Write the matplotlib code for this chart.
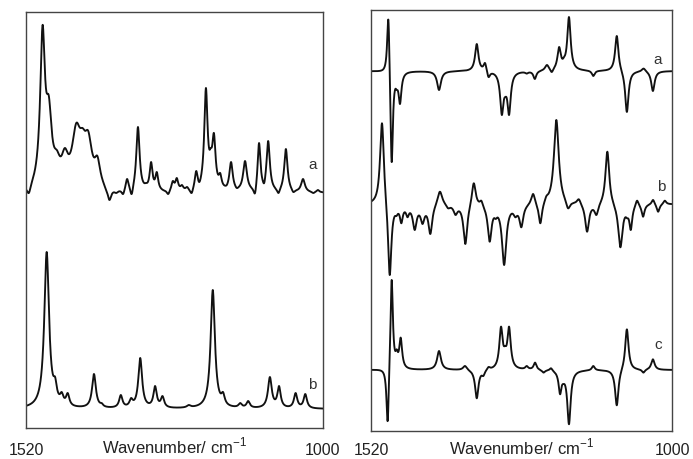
import numpy as np
import matplotlib.pyplot as plt

plt.rcParams['font.family'] = ['Liberation Sans', 'DejaVu Sans']
plt.rcParams['mathtext.fontset'] = 'custom'
plt.rcParams['mathtext.rm'] = 'Liberation Sans'

# band lists: position (cm-1), signal at that position, half width (cm-1)
# left panel, trace a
ir_a_pos = [1515, 1491, 1480, 1466, 1452, 1432, 1421, 1411, 1395, 1381, 1374,
            1362, 1350, 1343, 1335, 1324, 1310, 1301, 1291, 1280, 1271, 1263, 1256,
            1247, 1238, 1230, 1222, 1216.5, 1205, 1196.6, 1191, 1180, 1168.5, 1161, 1151,
            1136.5, 1119, 1112, 1103, 1096, 1078, 1065, 1052, 1035, 1017, 1009]
ir_a_int = [0, 168, 97, 43, 45, 70, 65, 62, 37, 5, -7,
            0, -1, 14, -1, 66, 10, 31, 21, 3, -1, 12, 15,
            8, 6, 0, 22, 11, 105, 45, 60, 20, 8, 31, 5,
            32, 0, 50, 10, 52, 0, 44, 1, 14, 0, 3]
ir_a_hw = [4, 5, 6, 7, 7, 9, 7, 8, 6, 4, 4,
           4, 3, 3, 3, 3.5, 3, 3, 3, 3, 3, 3, 3,
           3, 3, 3, 3, 3, 3.5, 3, 3.5, 3, 3, 3.5, 3,
           4, 3, 3, 2.5, 3.5, 3, 3.5, 3, 4, 3, 3]

# left panel, trace b
ir_b_pos = [1483.8, 1469, 1457.5, 1447, 1401, 1387.5, 1354, 1336, 1320, 1294, 1281, 1235,
            1193, 1175, 1145, 1131, 1093, 1077, 1048, 1031]
ir_b_int = [157, 32, 17, 16, 35, 6, 14, 11, 51, 23, 13, 4,
            119, 17, 6, 8, 32, 23, 16, 15]
ir_b_hw = [5, 3.5, 3.5, 3.5, 4, 3, 3.5, 3.5, 4, 3.5, 3.5, 4,
           4.5, 3.5, 3.5, 3.5, 4, 3.5, 3.5, 3.5]

# right panel, trace a
vcd_a_pos = [1490, 1484.3, 1475.6, 1469.9, 1402.5, 1337.3, 1323, 1317, 1294, 1288, 1281.5,
             1251, 1237, 1216, 1207.8, 1195, 1186.5, 1178, 1136, 1095.4, 1078, 1049, 1033]
vcd_a_int = [51, -91, -19, -33, -19, 27, 8, -6, -44, -26, -44,
             -2.6, -8, 6, -1, 24, 14, 54, -5, 35, -41, 2.4, -20]
vcd_a_hw = [2.5, 2.5, 2.5, 3, 4, 3.5, 3, 3, 3.5, 3, 3.5,
            3, 3, 4, 3, 3.5, 3, 3.5, 3, 3.5, 3.5, 4, 3.5]

# right panel, trace b
vcd_b_pos = [1501, 1487.7, 1476, 1467.6, 1457, 1444.5, 1431, 1417.5, 1401, 1386.9, 1374,
             1357, 1342.5, 1329.4, 1315, 1304.5, 1290, 1270.6, 1260.3, 1240, 1227.5, 1217,
             1199.8, 1179.6, 1161, 1146.7, 1130.6, 1111.7, 1089.2, 1077.6, 1071.2, 1060.4,
             1050, 1032.7, 1024, 1012.5, 1002]
vcd_b_int = [80.7, -71, -12, -19.3, -13.3, -26, -20, -30, 12.3, -4.3, -11,
             -40, 20.7, 3.3, -37.7, -15, -61, -13.3, -23.3, 10, -19.3, 8,
             84, -4.3, 4.7, -27.7, -11, 52.3, -43.3, -14.3, -26, 3.3,
             -12.7, 4, -7.7, 3.3, 0]
vcd_b_hw = [4, 3.5, 3, 3, 3, 4, 4, 4, 5, 4, 4,
            4, 4, 3, 4, 3, 4.5, 4, 4, 4, 3.5, 3.5,
            5, 4, 4, 4, 4, 4, 4.5, 3, 3, 3,
            3, 3, 3, 3, 3]

# right panel, trace c
vcd_c_pos = [1491.2, 1484.3, 1475.6, 1468.7, 1402.5, 1357.6, 1337.3, 1325.9, 1317, 1295.4,
             1288.4, 1281.5, 1251, 1236.6, 1222, 1209, 1193.4, 1187.6, 1178, 1136, 1095.4,
             1078, 1049.4, 1033]
vcd_c_int = [-51, 90, 20.7, 32.4, 19, 4, -28.3, -6, 3, 43.4,
             24, 43.4, 4, 7.4, -2.6, 1.7, -24.3, -14, -54.3, 4, -35.3,
             40.7, -2.6, 10.7]
vcd_c_hw = [2.5, 2.5, 2.5, 3, 4, 4, 3.5, 3, 3, 3.5,
            3, 3.5, 3, 3, 3, 3, 3, 3, 3.5, 3, 3.5,
            3.5, 3, 3.5]

x_ends = ['1520', '1000']


def band_trace(wn, pos, inten, hw):
    pos = np.asarray(pos, float)
    hw = np.asarray(hw, float)

    def shape(x):
        return 1.0 / (1.0 + ((x[:, None] - pos[None, :]) / hw[None, :])**2)

    amp = np.linalg.solve(shape(pos), np.asarray(inten, float))
    return shape(wn) @ amp


wn = np.linspace(1520, 1000, 3000)

fig = plt.figure(figsize=(6.93, 4.59), dpi=100)
ax1 = fig.add_axes([26/693, 1 - 428/459, 297/693, 416/459])
ax2 = fig.add_axes([371/693, 1 - 431/459, 301/693, 421.5/459])

ax1.plot(wn, 235 + band_trace(wn, ir_a_pos, ir_a_int, ir_a_hw), color='#111111', lw=1.35)
ax1.plot(wn, 19 + band_trace(wn, ir_b_pos, ir_b_int, ir_b_hw), color='#111111', lw=1.35)
ax1.set_ylim(0, 416)
ax1.text(1017.5, 263, 'a', fontsize=11, color='#333333', ha='center', va='center')
ax1.text(1019, 43, 'b', fontsize=11, color='#333333', ha='center', va='center')

ax2.plot(wn, 360 + band_trace(wn, vcd_a_pos, vcd_a_int, vcd_a_hw), color='#111111', lw=1.35)
ax2.plot(wn, 227 + band_trace(wn, vcd_b_pos, vcd_b_int, vcd_b_hw), color='#111111', lw=1.35)
ax2.plot(wn, 61 + band_trace(wn, vcd_c_pos, vcd_c_int, vcd_c_hw), color='#111111', lw=1.35)
ax2.set_ylim(0, 421.5)
ax2.text(1024, 371, 'a', fontsize=11, color='#333333', ha='center', va='center')
ax2.text(1019.4, 244, 'b', fontsize=11, color='#333333', ha='center', va='center')
ax2.text(1024, 86, 'c', fontsize=11, color='#333333', ha='center', va='center')

for ax, y_tick, y_lab in [(ax1, -0.066, -0.061), (ax2, -0.057, -0.0555)]:
    ax.set_xlim(1520, 1000)
    ax.set_xticks([])
    ax.set_yticks([])
    for s in ax.spines.values():
        s.set_color('#444444')
        s.set_linewidth(1.0)
    for xf, lab in zip([0, 1], x_ends):
        ax.text(xf, y_tick, lab, transform=ax.transAxes, ha='center', va='baseline',
                fontsize=11.5, color='#222222')
    ax.text(0.5, y_lab, 'Wavenumber/ cm$^{-1}$', transform=ax.transAxes,
            ha='center', va='baseline', fontsize=12, color='#222222')

fig.savefig('out.png', dpi=100)
